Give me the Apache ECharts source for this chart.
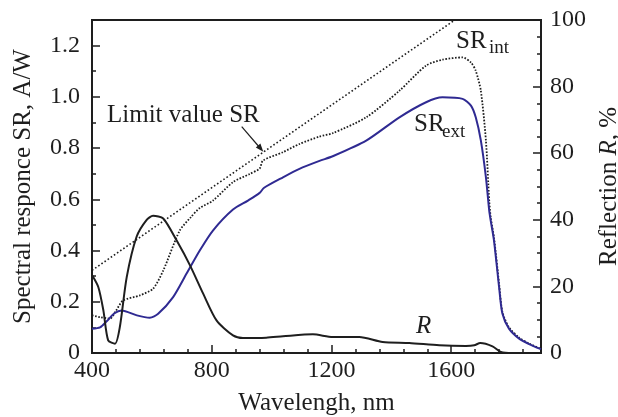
<!DOCTYPE html>
<html>
<head>
<meta charset="utf-8">
<script src="https://cdn.jsdelivr.net/npm/echarts@6/dist/echarts.min.js"></script>
<style>
html, body { margin: 0; padding: 0; background: #fff; }
#main { width: 618px; height: 417px; }
</style>
</head>
<body>
<div id="main"></div>
<script>
// wavelength (nm) and values
var extWl  = [400, 427, 450, 475, 499, 550, 593, 621, 671, 716, 760, 804, 871, 921, 960, 975, 1038, 1093, 1160, 1204, 1316, 1427, 1516, 1571, 1638, 1666, 1682, 1699, 1716, 1727, 1732, 1743, 1760, 1771, 1793, 1827, 1860, 1900];
var extSR  = [0.095, 0.10, 0.125, 0.155, 0.166, 0.147, 0.138, 0.153, 0.218, 0.31, 0.40, 0.478, 0.560, 0.595, 0.625, 0.645, 0.686, 0.719, 0.750, 0.768, 0.829, 0.92, 0.979, 0.998, 0.992, 0.966, 0.92, 0.83, 0.686, 0.556, 0.517, 0.439, 0.257, 0.154, 0.095, 0.056, 0.035, 0.015];

var intWl  = [400, 427, 460, 480, 504, 560, 604, 638, 693, 730, 760, 804, 871, 927, 960, 971, 1038, 1093, 1160, 1204, 1316, 1427, 1516, 1571, 1638, 1666, 1682, 1699, 1716, 1727, 1732, 1743, 1760, 1771, 1793, 1827, 1860, 1900];
var intSR  = [0.147, 0.14, 0.134, 0.165, 0.205, 0.225, 0.251, 0.322, 0.478, 0.53, 0.566, 0.595, 0.667, 0.699, 0.72, 0.751, 0.784, 0.816, 0.845, 0.858, 0.92, 1.024, 1.122, 1.145, 1.154, 1.134, 1.102, 1.024, 0.829, 0.595, 0.53, 0.45, 0.27, 0.16, 0.10, 0.06, 0.037, 0.016];

var limWl  = [400, 1612];
var limSR  = [0.3226, 1.3];

var refWl  = [400, 421, 438, 454, 477, 493, 516, 549, 582, 604, 638, 682, 727, 771, 816, 871, 904, 982, 1038, 1138, 1204, 1293, 1371, 1460, 1560, 1649, 1677, 1697, 1738, 1766, 1804, 1860];
var refR   = [23.4, 19.8, 12.8, 3.8, 2.8, 7.8, 22.8, 34.9, 39.9, 41.2, 40.4, 33.9, 26.4, 17.9, 9.8, 5.3, 4.5, 4.6, 5.0, 5.6, 4.8, 4.8, 3.3, 3.0, 2.3, 2.1, 2.3, 3.0, 2.0, 0.3, 0, 0];

function zip(a, b) {
	var out = [];
	for (var i = 0; i < a.length; i++) out.push([a[i], b[i]]);
	return out;
}

var FONT = 'Liberation Serif';
var INK = '#1e1e1e';
var BLUE = '#2f2a92';

var c = echarts.init(document.getElementById('main'));

var tickLbl = { fontFamily: FONT, fontSize: 24, color: INK };

var e = {
	animation: false,
	grid: { left: 92, right: 77, top: 20, bottom: 64, outerBoundsMode: 'none', containLabel: false, show: true, borderColor: INK, borderWidth: 2 },
	xAxis: [
		{
			type: 'value', min: 400, max: 1900, interval: 400, position: 'bottom',
			axisLine: { lineStyle: { color: INK, width: 2 } },
			axisTick: { inside: true, length: 8, lineStyle: { color: INK, width: 1.5 } },
			axisLabel: Object.assign({ margin: 6, showMaxLabel: false, formatter: function (v) { return String(v); } }, tickLbl),
			splitLine: { show: false },
			name: 'Wavelengh, nm', nameLocation: 'middle', nameGap: 38,
			nameTextStyle: { fontFamily: FONT, fontSize: 25, color: INK }
		},
		{
			type: 'value', min: 400, max: 1900, interval: 80, position: 'bottom',
			axisLine: { show: false },
			axisTick: { inside: true, length: 4, lineStyle: { color: INK, width: 1.5 } },
			axisLabel: { show: false }, splitLine: { show: false }
		}
	],
	yAxis: [
		{
			type: 'value', min: 0, max: 1.3, interval: 0.2, position: 'left',
			axisLine: { show: true, lineStyle: { color: INK, width: 2 } },
			axisTick: { show: true, inside: true, length: 8, lineStyle: { color: INK, width: 1.5 } },
			axisLabel: Object.assign({
				margin: 12, showMaxLabel: false,
				formatter: function (v) { return v === 0 ? '0' : v.toFixed(1); }
			}, tickLbl),
			splitLine: { show: false },
			name: 'Spectral responce SR, A/W', nameLocation: 'middle', nameGap: 56,
			nameTextStyle: { fontFamily: FONT, fontSize: 25, color: INK }
		},
		{
			type: 'value', min: 0, max: 1.3, interval: 0.1, position: 'left',
			axisLine: { show: false },
			axisTick: { show: true, inside: true, length: 4, lineStyle: { color: INK, width: 1.5 } },
			axisLabel: { show: false }, splitLine: { show: false }
		},
		{
			type: 'value', min: 0, max: 100, interval: 20, position: 'right',
			axisLine: { show: true, lineStyle: { color: INK, width: 2 } },
			axisTick: { show: true, inside: true, length: 8, lineStyle: { color: INK, width: 1.5 } },
			minorTick: { show: true, splitNumber: 4, length: 4, lineStyle: { color: INK, width: 1.5 } },
			axisLabel: Object.assign({ margin: 9 }, tickLbl),
			splitLine: { show: false },
			name: '{n|Reflection }{i|R}{n|, %}', nameLocation: 'middle', nameGap: 41,
			nameTextStyle: {
				fontFamily: FONT, fontSize: 25, color: INK,
				rich: {
					n: { fontFamily: FONT, fontSize: 25, color: INK },
					i: { fontFamily: FONT, fontSize: 25, color: INK, fontStyle: 'italic' }
				}
			}
		}
	],
	series: [
		{
			name: 'Limit value SR', type: 'line', xAxisIndex: 0, yAxisIndex: 0,
			data: zip(limWl, limSR), showSymbol: false,
			lineStyle: { color: INK, width: 1.6, type: [1.6, 2.2] }
		},
		{
			name: 'SRint', type: 'line', xAxisIndex: 0, yAxisIndex: 0,
			data: zip(intWl, intSR), showSymbol: false, smooth: 0.25,
			lineStyle: { color: INK, width: 1.8, type: [1.6, 1.6] }
		},
		{
			name: 'SRext', type: 'line', xAxisIndex: 0, yAxisIndex: 0,
			data: zip(extWl, extSR), showSymbol: false, smooth: 0.25,
			lineStyle: { color: BLUE, width: 2 }
		},
		{
			name: 'R', type: 'line', xAxisIndex: 0, yAxisIndex: 2,
			data: zip(refWl, refR), showSymbol: false, smooth: 0.25,
			lineStyle: { color: INK, width: 2 }
		}
	],
	graphic: [
		{ type: 'text', left: 107, top: 103, style: { text: 'Limit value SR', font: '25px "Liberation Serif"', fill: INK } },
		{ type: 'line', shape: { x1: 241.7, y1: 126.7, x2: 260.5, y2: 148.5 }, style: { stroke: INK, lineWidth: 1.2 } },
		{ type: 'polygon', shape: { points: [[263.3, 151.7], [255.8, 147.6], [260.4, 143.6]] }, style: { fill: INK } },
		{ type: 'text', left: 456, top: 29, style: { text: 'SR', font: '25px "Liberation Serif"', fill: INK } },
		{ type: 'text', left: 489, top: 39, style: { text: 'int', font: '19px "Liberation Serif"', fill: INK } },
		{ type: 'text', left: 414, top: 112, style: { text: 'SR', font: '25px "Liberation Serif"', fill: INK } },
		{ type: 'text', left: 442, top: 123, style: { text: 'ext', font: '19px "Liberation Serif"', fill: INK } },
		{ type: 'text', left: 416, top: 314, style: { text: 'R', font: 'italic 25px "Liberation Serif"', fill: INK } }
	]
};
c.setOption(e);
</script>
</body>
</html>
